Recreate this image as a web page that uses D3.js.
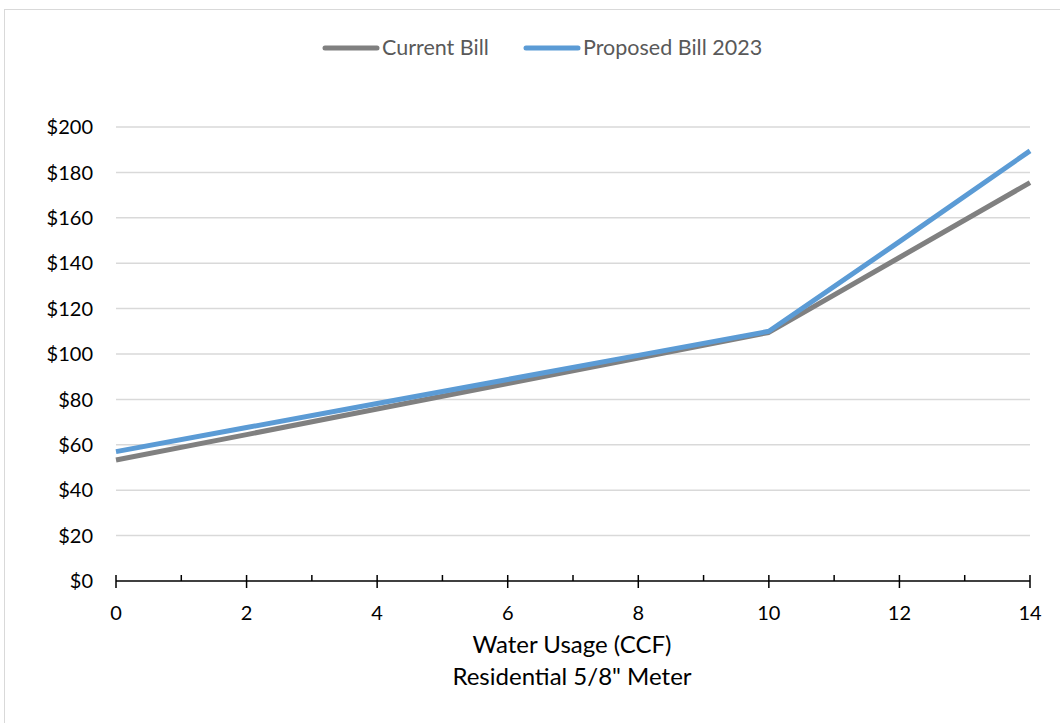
<!DOCTYPE html>
<html>
<head>
<meta charset="utf-8">
<script src="https://cdn.jsdelivr.net/npm/d3@7"></script>
<style>
body { margin: 0; background: #fff; }
svg { font-family: Lato, "Open Sans", sans-serif; }
</style>
</head>
<body>
<svg id="chart" width="1060" height="723"></svg>
<script>
// water usage (CCF)
var usage = [0, 2, 4, 6, 8, 10, 12, 14];
var currentBill = [53.3, 64.5, 75.8, 87, 98.2, 109.5, 142.5, 175.5];
var proposedBill = [57, 67.6, 78.2, 88.8, 99.4, 110, 149.5, 189.5];
var seriesNames = ["Current Bill", "Proposed Bill 2023"];
var yTicks = [0, 20, 40, 60, 80, 100, 120, 140, 160, 180, 200];
var xTicks = [0, 2, 4, 6, 8, 10, 12, 14];
var xMinorTicks = [1, 3, 5, 7, 9, 11, 13];

var colors = ["#808080", "#5b9bd5"];

var svg = d3.select("#chart");

// outer border
svg.append("rect")
	.attr("x", 4.5).attr("y", 9.5)
	.attr("width", 1070).attr("height", 730)
	.attr("fill", "none")
	.attr("stroke", "#d9d9d9");

var x = d3.scaleLinear().domain([0, 14]).range([116, 1030]);
var y = d3.scaleLinear().domain([0, 200]).range([581, 127]);

// gridlines
svg.append("g").selectAll("line")
	.data(yTicks.slice(1))
	.enter().append("line")
		.attr("x1", x(0)).attr("x2", x(14))
		.attr("y1", function(d) { return y(d); })
		.attr("y2", function(d) { return y(d); })
		.attr("stroke", "#d9d9d9")
		.attr("stroke-width", 1.5);

// y labels
svg.append("g").selectAll("text")
	.data(yTicks)
	.enter().append("text")
		.attr("x", 93)
		.attr("y", function(d) { return y(d); })
		.attr("dy", "0.36em")
		.attr("text-anchor", "end")
		.attr("font-size", 20)
		.attr("fill", "#000")
		.text(function(d) { return "$" + d; });

// x axis
var xAxis = svg.append("g");
xAxis.append("line")
	.attr("x1", x(0)).attr("x2", x(14))
	.attr("y1", y(0)).attr("y2", y(0))
	.attr("stroke", "#000").attr("stroke-width", 1.5);
xAxis.selectAll(".major")
	.data(xTicks)
	.enter().append("line")
		.attr("class", "major")
		.attr("x1", function(d) { return x(d); })
		.attr("x2", function(d) { return x(d); })
		.attr("y1", y(0) - 6).attr("y2", y(0) + 7)
		.attr("stroke", "#000").attr("stroke-width", 1.5);
xAxis.selectAll(".minor")
	.data(xMinorTicks)
	.enter().append("line")
		.attr("class", "minor")
		.attr("x1", function(d) { return x(d); })
		.attr("x2", function(d) { return x(d); })
		.attr("y1", y(0) - 6).attr("y2", y(0))
		.attr("stroke", "#000").attr("stroke-width", 1.5);
xAxis.selectAll("text")
	.data(xTicks)
	.enter().append("text")
		.attr("x", function(d) { return x(d); })
		.attr("y", 620)
		.attr("text-anchor", "middle")
		.attr("font-size", 20)
		.text(function(d) { return d; });

// axis title
svg.append("text")
	.attr("x", 572).attr("y", 653)
	.attr("text-anchor", "middle")
	.attr("font-size", 24)
	.text("Water Usage (CCF)");
svg.append("text")
	.attr("x", 572).attr("y", 685)
	.attr("text-anchor", "middle")
	.attr("font-size", 24)
	.text("Residential 5/8\" Meter");

// lines
var line = d3.line()
	.x(function(d) { return x(d[0]); })
	.y(function(d) { return y(d[1]); });

[currentBill, proposedBill].forEach(function(vals, i) {
	svg.append("path")
		.datum(usage.map(function(u, j) { return [u, vals[j]]; }))
		.attr("fill", "none")
		.attr("stroke", colors[i])
		.attr("stroke-width", 5)
		.attr("stroke-linejoin", "round")
		.attr("d", line);
});

// legend
var legendX = [323, 524];
var legend = svg.append("g").selectAll("g")
	.data(seriesNames)
	.enter().append("g")
		.attr("transform", function(d, i) { return "translate(" + legendX[i] + ",48)"; });
legend.append("line")
	.attr("x1", 2).attr("x2", 54)
	.attr("stroke", function(d, i) { return colors[i]; })
	.attr("stroke-width", 5)
	.attr("stroke-linecap", "round");
legend.append("text")
	.attr("x", 59)
	.attr("y", 7)
	.attr("font-size", 21.5)
	.attr("fill", "#595959")
	.text(function(d) { return d; });
</script>
</body>
</html>
